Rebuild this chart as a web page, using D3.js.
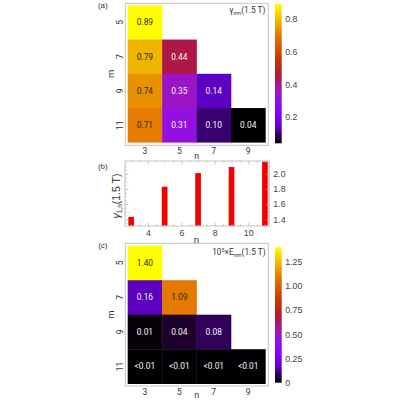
<!DOCTYPE html>
<html><head><meta charset="utf-8">
<script src="https://cdn.jsdelivr.net/npm/d3@7"></script>
<style>
body{margin:0;background:#fff;}
svg{display:block;font-family:"Liberation Sans",Arial,sans-serif;}
</style></head>
<body><svg id="c" width="400" height="400"></svg>
<script>
// ---- data ----
const nCats = [3, 5, 7, 9];
const mCats = [5, 7, 9, 11];
// gamma_nm(1.5 T): rows m = 5,7,9,11 ; columns n = 3,5,7,9 (triangle)
const gammaRow5  = [0.89];
const gammaRow7  = [0.79, 0.44];
const gammaRow9  = [0.74, 0.35, 0.14];
const gammaRow11 = [0.71, 0.31, 0.10, 0.04];
// 10^5 x E_nm(1.5 T)
const eRow5  = [1.40];
const eRow7  = [0.16, 1.09];
const eRow9  = [0.01, 0.04, 0.08];
const eRow11 = [0.003, 0.003, 0.003, 0.003];   // shown as "<0.01"
// gamma_{1,n}(1.5 T)
const barN = [3, 5, 7, 9, 11];
const barVals = [1.43, 1.83, 2.01, 2.09, 2.16];
const cbTicksA = [0.2, 0.4, 0.6, 0.8];
const cbTicksC = [0, 0.25, 0.5, 0.75, 1.0, 1.25];
const bTicksX = [4, 6, 8, 10];
const bTicksY = [1.4, 1.6, 1.8, 2.0];

// gradient (sunset-like)
const gradT   = [0, 0.03, 0.07, 0.12, 0.2, 0.32, 0.4, 0.48, 0.6, 0.72, 0.8, 0.88, 0.94, 1];
const gradCol = ["#000000","#1e002e","#3a0070","#6000c8","#8000ff","#9410e0","#a018b0","#b01838","#c83008","#dc6000","#e88200","#f0b400","#f8d800","#ffff00"];
const grad = d3.scaleLinear().domain(gradT).range(gradCol).interpolate(d3.interpolateRgb).clamp(true);

const svg = d3.select("#c");
const frameCol = "#c4c4c4";
const textCol = "#333";
const defs = svg.append("defs");
const lg = defs.append("linearGradient").attr("id","sunset").attr("x1",0).attr("y1",1).attr("x2",0).attr("y2",0);
gradT.forEach((t,i)=>lg.append("stop").attr("offset",t).attr("stop-color",gradCol[i]));

function rowsToCells(rows){
  const out=[];
  rows.forEach((r,i)=>r.forEach((v,j)=>out.push({m:mCats[i], n:nCats[j], v})));
  return out;
}

function heatmap(opt){
  const g = svg.append("g");
  const x = d3.scaleBand().domain(nCats).range([127.7, 265.4]).paddingInner(0);
  const y = d3.scaleBand().domain(mCats).range(opt.yr).paddingInner(0);
  const norm = d3.scaleLinear().domain(opt.dom).range([0,1]);
  g.append("rect").attr("x",125.3).attr("y",opt.frame[0]).attr("width",143).attr("height",opt.frame[1]-opt.frame[0])
    .attr("fill","none").attr("stroke",frameCol).attr("stroke-width",1);
  const cells = g.selectAll("g.cell").data(opt.cells).join("g");
  cells.append("rect").attr("x",d=>x(d.n)).attr("y",d=>y(d.m))
    .attr("width",x.bandwidth()+0.3).attr("height",y.bandwidth()+0.3)
    .attr("fill",d=>grad(norm(d.v)));
  cells.append("text").attr("x",d=>x(d.n)+x.bandwidth()/2).attr("y",d=>y(d.m)+y.bandwidth()/2)
    .attr("dy","0.36em").attr("text-anchor","middle")
    .style("font-family","Roboto, 'DejaVu Sans Condensed', sans-serif").style("font-size","8.4px")
    .attr("fill",d=>norm(d.v)>0.62?"#2a2a2a":"#f4f4f4")
    .text(d=>opt.fmt(d.v));
  // axes
  const ax = g.append("g").attr("transform",`translate(0,${opt.frame[1]})`)
    .call(d3.axisBottom(x).tickSize(0).tickPadding(2.5));
  ax.select(".domain").remove();
  ax.selectAll("text").attr("fill",textCol).style("font-size","8.5px").style("font-family","Roboto, sans-serif");
  const ay = g.append("g").attr("transform",`translate(125.3,0)`)
    .call(d3.axisLeft(y).tickSize(0));
  ay.select(".domain").remove();
  ay.selectAll("text").attr("transform","translate(-5,0) rotate(-90)").attr("x",0).attr("y",0)
    .attr("dy","0.36em").attr("text-anchor","middle").attr("fill",textCol)
    .style("font-size","8.5px").style("font-family","Roboto, sans-serif");
  g.append("text").attr("x",196.7).attr("y",opt.nY).attr("dy","0.36em").attr("text-anchor","middle")
    .attr("fill",textCol).style("font-size","9px").style("font-family","Roboto, sans-serif").text("n");
  g.append("text").attr("transform",`translate(110.3,${(opt.yr[0]+opt.yr[1])/2}) rotate(-90)`)
    .attr("dy","0.36em").attr("text-anchor","middle")
    .attr("fill",textCol).style("font-size","9.5px").style("font-family","Roboto, sans-serif").text("m");
  // panel label
  g.append("text").attr("x",102.8).attr("y",opt.frame[0]+2).attr("dy","0.36em").attr("text-anchor","middle")
    .attr("fill",textCol).style("font-size","8px").text(opt.label);
  // colorbar
  const cs = d3.scaleLinear().domain(opt.dom).range(opt.cbY);
  g.append("rect").attr("x",275).attr("y",opt.cbY[1]).attr("width",6.7).attr("height",opt.cbY[0]-opt.cbY[1])
    .attr("fill","url(#sunset)");
  const ac = g.append("g").attr("transform","translate(281.7,0)")
    .call(d3.axisRight(cs).tickValues(opt.cbTicks).tickFormat(opt.cbFmt).tickSize(0).tickPadding(3.5));
  ac.select(".domain").remove();
  ac.selectAll("text").attr("fill","#444").style("font-size","8.8px");
  return g;
}

const ga = heatmap({
  cells: rowsToCells([gammaRow5,gammaRow7,gammaRow9,gammaRow11]),
  yr:[5.3,142.3], frame:[3.3,145.3], nY:155.5, dom:[0.04,0.89], cbY:[143.3,4],
  cbTicks: cbTicksA, cbFmt: d3.format(".1f"), label:"(a)",
  fmt: v=>v.toFixed(2)
});
ga.append("text").attr("x",265.3).attr("y",13.2).attr("text-anchor","end").attr("fill",textCol)
  .style("font-size","8.3px").style("font-family","Roboto, sans-serif")
  .call(t=>{t.append("tspan").text("γ");
            t.append("tspan").attr("dy",2).style("font-size","5.5px").text("nm");
            t.append("tspan").attr("dy",-2).text("(1.5 T)");});

const gc = heatmap({
  cells: rowsToCells([eRow5,eRow7,eRow9,eRow11]),
  yr:[245.7,383.7], frame:[243.3,386], nY:394.3, dom:[0,1.40], cbY:[382.7,247.3],
  cbTicks: cbTicksC, cbFmt: v=>v===0?"0":d3.format(".2f")(v), label:"(c)",
  fmt: v=>v<0.01?"<0.01":v.toFixed(2)
});
gc.append("text").attr("x",265.7).attr("y",254.5).attr("text-anchor","end").attr("fill",textCol)
  .style("font-size","8.3px").style("font-family","Roboto, sans-serif")
  .call(t=>{t.append("tspan").text("10");
            t.append("tspan").attr("dy",-3).style("font-size","5.5px").text("5");
            t.append("tspan").attr("dy",3).text("×E");
            t.append("tspan").attr("dy",2).style("font-size","5.5px").text("nm");
            t.append("tspan").attr("dy",-2).text("(1.5 T)");});

// ---- panel (b) ----
const gb = svg.append("g");
const bx = d3.scaleLinear().domain([2.63, 11.26]).range([125, 269.3]);
const by = d3.scaleLinear().domain([1.31, 2.17]).range([226, 161]);
gb.selectAll("rect.bar").data(barN.map((n,i)=>({n,v:barVals[i]}))).join("rect")
  .attr("x",d=>bx(d.n)-2.85).attr("width",5.7)
  .attr("y",d=>by(d.v)).attr("height",d=>by.range()[0]-by(d.v))
  .attr("fill","#f50000");
gb.append("rect").attr("x",125).attr("y",161).attr("width",144.3).attr("height",65)
  .attr("fill","none").attr("stroke",frameCol).attr("stroke-width",1);
function styleAx(a){ a.select(".domain").remove(); a.selectAll("line").attr("stroke","#aaa").attr("stroke-width",0.6);
  a.selectAll("text").attr("fill","#444").style("font-size","8.8px"); }
// minor ticks
const minorX = d3.range(3, 11.01, 0.5).filter(v=>!bTicksX.includes(v));
const minorY = d3.range(1.35, 2.16, 0.05).map(v=>+v.toFixed(2)).filter(v=>!bTicksY.includes(v));
gb.append("g").attr("transform","translate(0,226)").call(d3.axisBottom(bx).tickValues(minorX).tickSize(-1.8).tickFormat("")).call(styleAx);
gb.append("g").attr("transform","translate(0,161)").call(d3.axisTop(bx).tickValues(minorX).tickSize(-1.8).tickFormat("")).call(styleAx);
gb.append("g").attr("transform","translate(125,0)").call(d3.axisLeft(by).tickValues(minorY).tickSize(-1.8).tickFormat("")).call(styleAx);
gb.append("g").attr("transform","translate(269.3,0)").call(d3.axisRight(by).tickValues(minorY).tickSize(-1.8).tickFormat("")).call(styleAx);
gb.append("g").attr("transform","translate(0,226)").call(d3.axisBottom(bx).tickValues(bTicksX).tickSize(-3.5).tickPadding(3.5)).call(styleAx);
gb.append("g").attr("transform","translate(0,161)").call(d3.axisTop(bx).tickValues(bTicksX).tickSize(-3.5).tickFormat("")).call(styleAx);
gb.append("g").attr("transform","translate(125,0)").call(d3.axisLeft(by).tickValues(bTicksY).tickSize(-3.5).tickFormat("")).call(styleAx);
gb.append("g").attr("transform","translate(269.3,0)").call(d3.axisRight(by).tickValues(bTicksY).tickSize(-3.5).tickPadding(4).tickFormat(d3.format(".1f"))).call(styleAx);
gb.append("text").attr("x",196.5).attr("y",239.5).attr("dy","0.36em").attr("text-anchor","middle")
  .attr("fill",textCol).style("font-size","9.5px").text("n");
gb.append("text").attr("transform","translate(116.5,196) rotate(-90)").attr("dy","0.36em").attr("text-anchor","middle")
  .attr("fill",textCol).style("font-size","10.5px")
  .call(t=>{t.append("tspan").style("font-style","italic").text("γ");
            t.append("tspan").attr("dy",2).style("font-size","6.5px").text("1,n");
            t.append("tspan").attr("dy",-2).text("(1.5 T)");});
gb.append("text").attr("x",102.8).attr("y",166).attr("dy","0.36em").attr("text-anchor","middle")
  .attr("fill",textCol).style("font-size","8px").text("(b)");
</script></body></html>
